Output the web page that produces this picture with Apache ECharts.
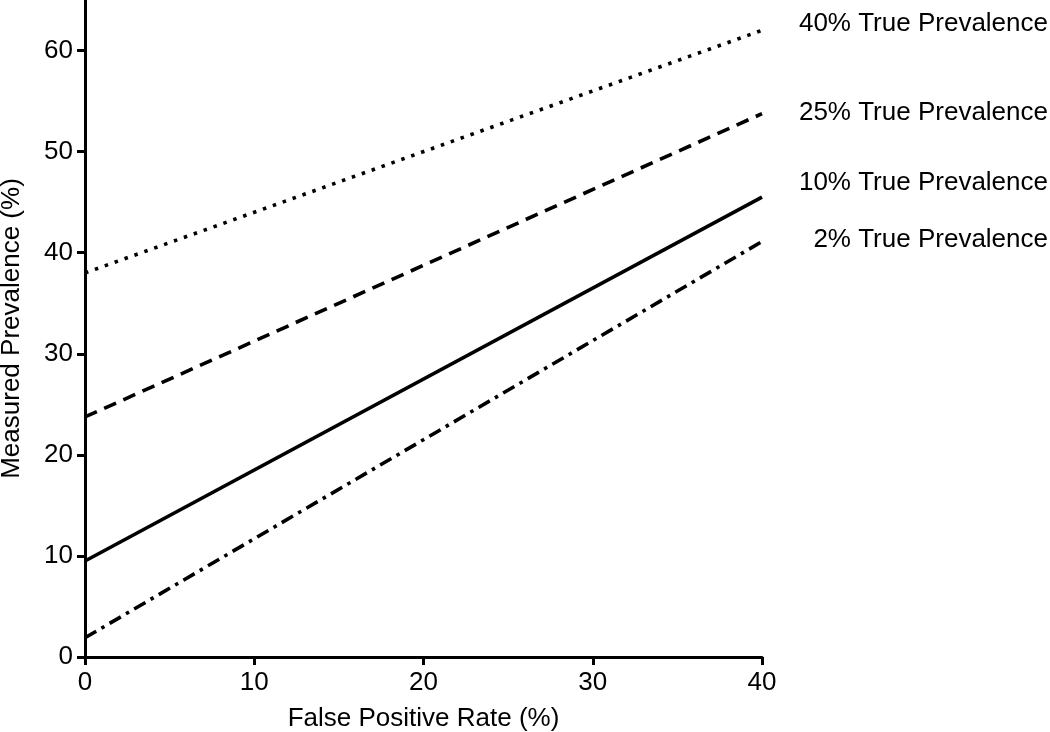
<!DOCTYPE html>
<html>
<head>
<meta charset="utf-8">
<script src="https://cdn.jsdelivr.net/npm/echarts@6/dist/echarts.min.js"></script>
<style>html,body{margin:0;padding:0;background:#fff;}#c{width:1050px;height:732px;}</style>
</head>
<body>
<div id="c"></div>
<script>
const seriesNames = ['40% True Prevalence', '25% True Prevalence', '10% True Prevalence', '2% True Prevalence'];
const fpr = [0, 40];
const prev40 = [38, 62];
const prev25 = [23.75, 53.75];
const prev10 = [9.5, 45.5];
const prev2 = [1.9, 41.1];
const xTicks = [0, 10, 20, 30, 40];
const yTicks = [0, 10, 20, 30, 40, 50, 60];

const values = [prev40, prev25, prev10, prev2];
const dashes = [[3.5, 7], [13, 8], 'solid', [13, 6, 3.5, 6]];
const labelY = [24, 113, 183, 240];
const font = 'Liberation Sans, Arial, sans-serif';
const fs = 26;

const chart = echarts.init(document.getElementById('c'), null, {renderer: 'canvas'});
chart.setOption({
  animation: false,
  backgroundColor: '#fff',
  grid: {left: 85, right: 288, top: 0, bottom: 75, containLabel: false, outerBoundsMode: 'none'},
  xAxis: {
    type: 'value', min: 0, max: 40, interval: 10,
    name: 'False Positive Rate (%)', nameLocation: 'middle', nameGap: 49,
    nameTextStyle: {fontFamily: font, fontSize: fs, color: '#000'},
    axisLine: {lineStyle: {color: '#000', width: 3}},
    axisTick: {show: true, inside: false, length: 8, customValues: xTicks, lineStyle: {color: '#000', width: 3}},
    axisLabel: {fontFamily: font, fontSize: fs, color: '#000', margin: 13, customValues: xTicks},
    splitLine: {show: false}
  },
  yAxis: {
    type: 'value', min: 0, max: 65, interval: 10,
    name: 'Measured Prevalence (%)', nameLocation: 'middle', nameGap: 60,
    nameTextStyle: {fontFamily: font, fontSize: fs, color: '#000'},
    axisLine: {lineStyle: {color: '#000', width: 3}},
    axisTick: {show: true, inside: false, length: 8, customValues: yTicks, lineStyle: {color: '#000', width: 3}},
    axisLabel: {fontFamily: font, fontSize: fs, color: '#000', margin: 12, customValues: yTicks},
    splitLine: {show: false}
  },
  series: values.map((vals, i) => ({
    type: 'line', name: seriesNames[i],
    data: fpr.map((x, j) => [x, vals[j]]),
    showSymbol: false, symbol: 'none',
    lineStyle: {color: '#000', width: 3.6, type: dashes[i], cap: 'butt'}
  })),
  graphic: seriesNames.map((n, i) => ({
    type: 'text', x: 1048, y: labelY[i],
    style: {text: n, fontFamily: font, fontSize: fs, fill: '#000', align: 'right', verticalAlign: 'middle'}
  }))
});
</script>
</body>
</html>
